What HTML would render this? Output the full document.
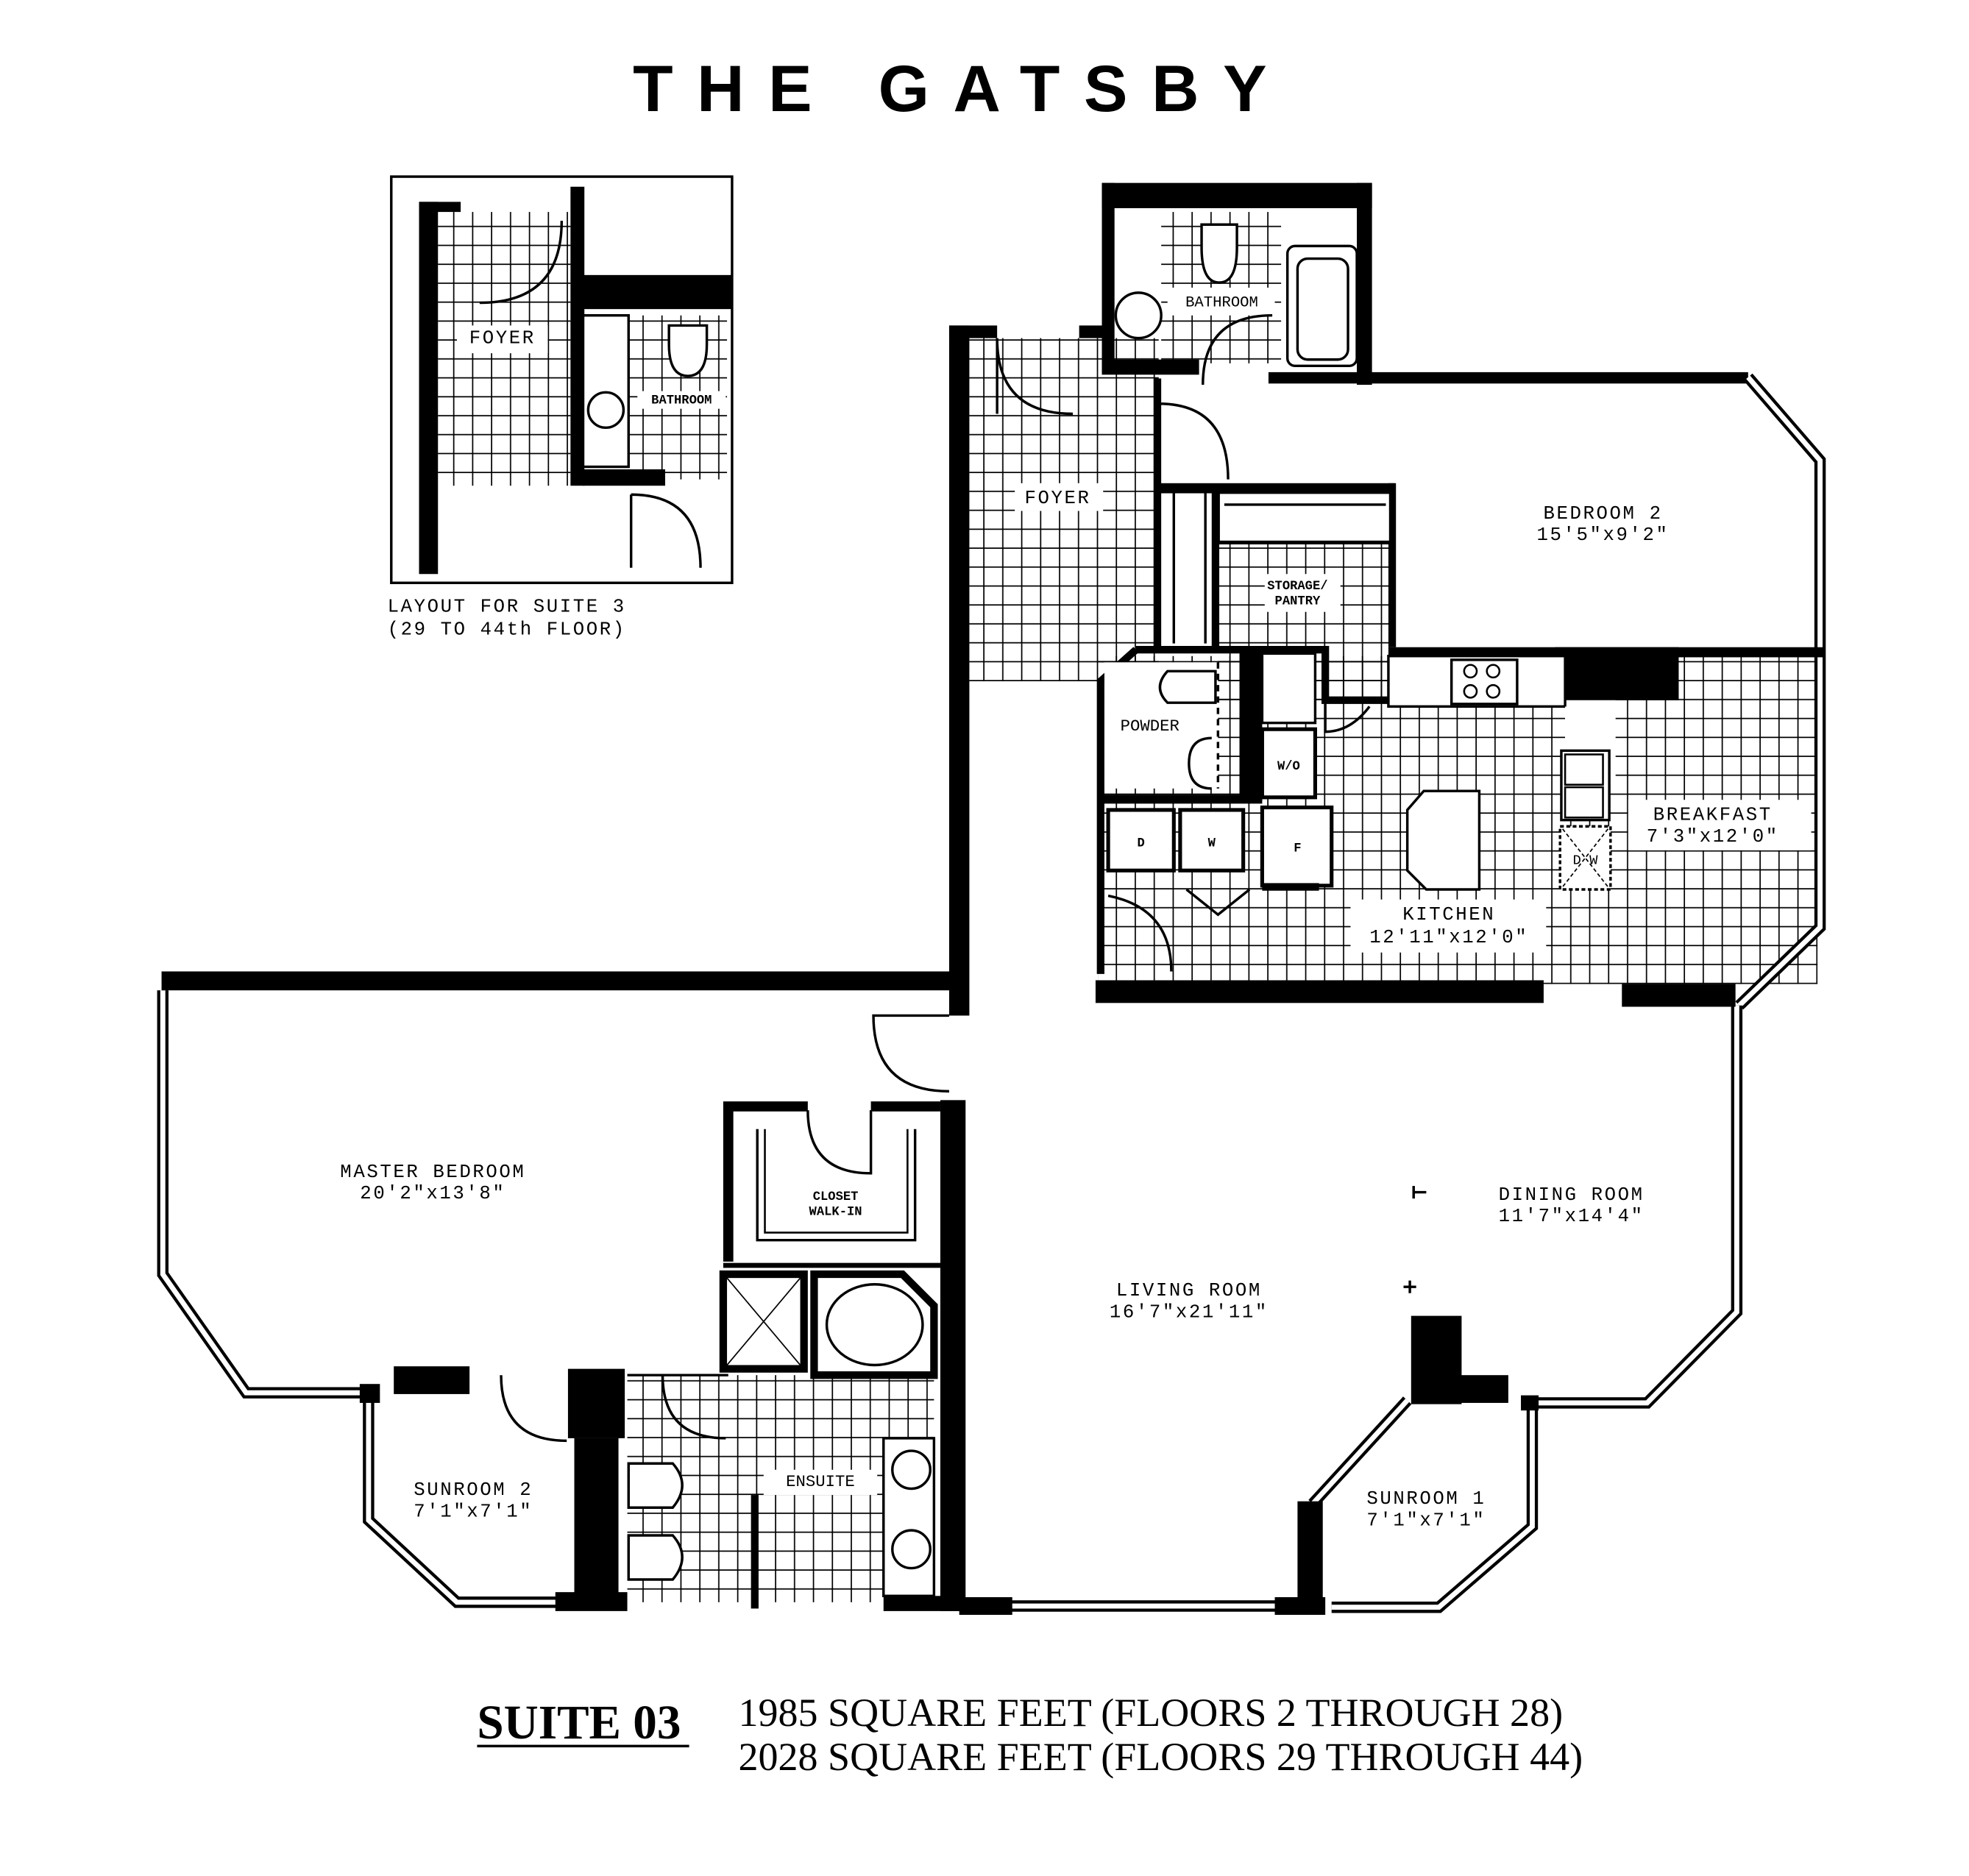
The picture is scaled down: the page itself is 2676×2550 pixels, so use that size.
<!DOCTYPE html>
<html><head><meta charset="utf-8"><style>
html,body{margin:0;padding:0;background:#fff}
svg{display:block}
.l{font-family:"Liberation Mono",monospace;font-size:15px;fill:#000;text-anchor:middle;letter-spacing:1.5px}
.s{font-family:"Liberation Mono",monospace;font-size:10px;font-weight:bold;fill:#000;text-anchor:middle}
.wo{fill:none;stroke:#000;stroke-width:9}
.wi{fill:none;stroke:#fff;stroke-width:4}
.t{fill:none;stroke:#000;stroke-width:2}
</style></head><body>
<svg width="2676" height="2550" viewBox="0 0 1560 1487" preserveAspectRatio="none" xmlns="http://www.w3.org/2000/svg">
<defs>
<pattern id="g" width="15" height="15" patternUnits="userSpaceOnUse"><path d="M15 0V15H0" fill="none" stroke="#000" stroke-width="2"/></pattern>
<path id="w1" d="M1385 299L1442 365V735L1378 797"/>
<path id="w2" d="M1376 797V1040L1305 1112H1214V1210L1140 1274H1055"/>
<path id="w3" d="M1040 1192L1115 1110"/>
<path id="w4" d="M129 785V1010L195 1104H292V1205L362 1270H445"/>
<path id="w5" d="M800 1273H1012"/>
</defs>
<rect width="1560" height="1487" fill="#fff"/>
<text x="762" y="88" text-anchor="middle" font-family="Liberation Sans,sans-serif" font-weight="bold" font-size="52" letter-spacing="19">THE GATSBY</text>

<!-- inset -->
<rect x="310" y="140" width="270" height="322" fill="none" stroke="#000" stroke-width="2"/>
<rect x="347" y="168" width="105" height="217" fill="url(#g)"/>
<rect x="498" y="250" width="78" height="130" fill="url(#g)"/>
<rect x="362" y="258" width="72" height="22" fill="#fff"/>
<rect x="332" y="160" width="15" height="295"/>
<rect x="332" y="160" width="33" height="8"/>
<rect x="452" y="148" width="11" height="237"/>
<rect x="462" y="218" width="118" height="27"/>
<rect x="462" y="372" width="65" height="13"/>
<rect x="462" y="250" width="36" height="120" fill="#fff" stroke="#000" stroke-width="2"/>
<circle cx="480" cy="325" r="14" fill="none" stroke="#000" stroke-width="2"/>
<path d="M530 258h30v15q0 25-15 25t-15-25z" fill="#fff" stroke="#000" stroke-width="2"/>
<path d="M500 392q55 0 55 58M500 392v58" class="t"/>
<path d="M445 175q0 65-65 65" class="t"/>
<text x="398" y="272" class="l">FOYER</text>
<rect x="505" y="310" width="70" height="14" fill="#fff"/>
<text x="540" y="320" class="s">BATHROOM</text>
<text x="307" y="485" class="l" style="text-anchor:start">LAYOUT FOR SUITE 3</text>
<text x="307" y="503" class="l" style="text-anchor:start">(29 TO 44th FLOOR)</text>

<!-- tiles -->
<rect x="768" y="268" width="150" height="272" fill="url(#g)"/>
<rect x="920" y="168" width="95" height="120" fill="url(#g)"/>
<rect x="965" y="430" width="137" height="125" fill="url(#g)"/>
<rect x="870" y="520" width="570" height="260" fill="url(#g)"/>
<rect x="497" y="1090" width="243" height="180" fill="url(#g)"/>
<rect x="1100" y="520" width="140" height="40" fill="#fff"/>
<rect x="1240" y="520" width="40" height="100" fill="#fff"/>
<rect x="1070" y="713" width="155" height="42" fill="#fff"/>
<rect x="1290" y="634" width="145" height="40" fill="#fff"/>
<rect x="804" y="383" width="70" height="22" fill="#fff"/>
<rect x="925" y="228" width="85" height="22" fill="#fff"/>
<rect x="1002" y="455" width="60" height="30" fill="#fff"/>
<rect x="878" y="565" width="66" height="20" fill="#fff"/>
<rect x="605" y="1165" width="90" height="20" fill="#fff"/>
<rect x="930" y="390" width="30" height="120" fill="#fff"/>

<!-- top bathroom block -->
<rect x="873" y="145" width="214" height="20"/>
<rect x="873" y="145" width="10" height="150"/>
<rect x="1075" y="145" width="12" height="160"/>
<rect x="873" y="285" width="77" height="12"/>
<rect x="1005" y="295" width="380" height="9"/>
<rect x="1020" y="195" width="55" height="95" rx="6" fill="#fff" stroke="#000" stroke-width="2"/>
<rect x="1028" y="205" width="40" height="80" rx="8" fill="none" stroke="#000" stroke-width="2"/>
<circle cx="902" cy="250" r="18" fill="#fff" stroke="#000" stroke-width="2"/>
<path d="M952 178h28v18q0 28-14 28t-14-28z" fill="#fff" stroke="#000" stroke-width="2"/>
<path d="M1008 250q-55 0-55 55" class="t"/>
<text x="968" y="243" class="s" style="font-size:12px;font-weight:normal">BATHROOM</text>

<!-- windows -->
<use href="#w1" class="wo"/><use href="#w1" class="wi"/>
<use href="#w2" class="wo"/><use href="#w2" class="wi"/>
<use href="#w3" class="wo"/><use href="#w3" class="wi"/>
<use href="#w4" class="wo"/><use href="#w4" class="wi"/>
<use href="#w5" class="wo"/><use href="#w5" class="wi"/>

<!-- foyer -->
<rect x="752" y="258" width="16" height="547"/>
<rect x="752" y="258" width="38" height="10"/>
<rect x="855" y="258" width="20" height="10"/>
<rect x="914" y="300" width="6" height="215"/>
<path d="M790 268q0 60 60 60M790 268v60" class="t"/>
<path d="M918 320q55 0 55 60" class="t"/>
<text x="838" y="399" class="l">FOYER</text>
<rect x="918" y="383" width="187" height="8"/>
<rect x="1100" y="383" width="6" height="130"/>
<rect x="965" y="390" width="137" height="40" fill="#fff" stroke="#000" stroke-width="3"/>
<line x1="970" y1="400" x2="1098" y2="400" stroke="#000" stroke-width="2"/>
<rect x="960" y="390" width="6" height="125"/>
<path d="M930 390v120M955 390v120" class="t"/>
<text x="1028" y="467" class="s">STORAGE/</text>
<text x="1028" y="479" class="s">PANTRY</text>
<text x="1270" y="411" class="l">BEDROOM 2</text>
<text x="1270" y="428" class="l">15'5"x9'2"</text>
<rect x="1100" y="513" width="345" height="8"/>
<rect x="1232" y="513" width="98" height="42"/>

<!-- powder / laundry -->
<path d="M900 515H1050V555H1100" fill="none" stroke="#000" stroke-width="6"/>
<path d="M900 515L872 540V772" fill="none" stroke="#000" stroke-width="6"/>
<rect x="982" y="515" width="18" height="120"/>
<rect x="872" y="630" width="128" height="7"/>
<rect x="1000" y="518" width="42" height="55" fill="#fff" stroke="#000" stroke-width="2"/>
<rect x="1000" y="578" width="42" height="54" fill="#fff" stroke="#000" stroke-width="3"/>
<rect x="878" y="642" width="52" height="48" fill="#fff" stroke="#000" stroke-width="3"/>
<rect x="935" y="642" width="50" height="48" fill="#fff" stroke="#000" stroke-width="3"/>
<rect x="1000" y="640" width="55" height="62" fill="#fff" stroke="#000" stroke-width="3"/>
<rect x="1000" y="700" width="45" height="6"/>
<rect x="875" y="525" width="90" height="100" fill="#fff"/>
<path d="M925 532h38v25h-38q-12-12 0-25z" fill="#fff" stroke="#000" stroke-width="2"/>
<path d="M965 525v100" stroke="#000" stroke-width="2" stroke-dasharray="5 4"/>
<path d="M960 585q-18 0-18 20t18 20" class="t"/>
<text x="911" y="579" class="s" style="font-size:13px;font-weight:normal">POWDER</text>
<text x="1021" y="610" class="s">W/O</text>
<text x="904" y="671" class="s">D</text>
<text x="960" y="671" class="s">W</text>
<text x="1028" y="675" class="s">F</text>
<path d="M878 710q50 10 50 60M940 705l25 20l25-20" class="t"/>
<!-- kitchen -->
<rect x="1100" y="520" width="140" height="40" fill="#fff" stroke="#000" stroke-width="2"/>
<rect x="1150" y="523" width="52" height="35" fill="#fff" stroke="#000" stroke-width="2"/>
<circle cx="1165" cy="532" r="5" fill="none" stroke="#000" stroke-width="1.5"/><circle cx="1183" cy="532" r="5" fill="none" stroke="#000" stroke-width="1.5"/>
<circle cx="1165" cy="548" r="5" fill="none" stroke="#000" stroke-width="1.5"/><circle cx="1183" cy="548" r="5" fill="none" stroke="#000" stroke-width="1.5"/>
<path d="M1050 520v60q20 0 35-20" class="t"/>
<path d="M1128 627h44v78h-42l-15-15v-48z" fill="#fff" stroke="#000" stroke-width="2"/>
<path d="M1240 560h38v60h-38z" fill="#fff"/>
<rect x="1237" y="595" width="38" height="55" fill="#fff" stroke="#000" stroke-width="2"/>
<rect x="1240" y="598" width="30" height="24" fill="none" stroke="#000" stroke-width="1.5"/>
<rect x="1240" y="624" width="30" height="24" fill="none" stroke="#000" stroke-width="1.5"/>
<rect x="1236" y="655" width="40" height="50" fill="#fff" stroke="#000" stroke-width="2" stroke-dasharray="3 2"/>
<path d="M1238 657l36 46M1274 657l-36 46" stroke="#000" stroke-width="1" stroke-dasharray="3 2"/>
<text x="1256" y="685" class="s" style="font-size:11px;font-weight:normal">D W</text>
<text x="1148" y="729" class="l">KITCHEN</text>
<text x="1148" y="747" class="l">12'11"x12'0"</text>
<text x="1357" y="650" class="l">BREAKFAST</text>
<text x="1357" y="667" class="l">7'3"x12'0"</text>
<rect x="868" y="777" width="355" height="18"/>
<rect x="1285" y="780" width="90" height="18"/>

<!-- master bedroom -->
<rect x="128" y="770" width="626" height="15"/>
<path d="M752 805q-60 0-60 0q0 60 60 60" class="t"/>
<text x="343" y="933" class="l">MASTER BEDROOM</text>
<text x="343" y="950" class="l">20'2"x13'8"</text>
<rect x="285" y="1097" width="16" height="15"/>
<rect x="312" y="1083" width="60" height="22"/>
<path d="M397 1090q0 52 52 52" class="t"/>
<text x="375" y="1185" class="l">SUNROOM 2</text>
<text x="375" y="1202" class="l">7'1"x7'1"</text>
<rect x="440" y="1262" width="57" height="15"/>
<rect x="450" y="1085" width="45" height="55"/>
<rect x="455" y="1140" width="35" height="130"/>
<!-- closet -->
<path d="M577 1000V877H640M690 877H745" fill="none" stroke="#000" stroke-width="8"/>
<path d="M573 1003H745" stroke="#000" stroke-width="4"/>
<path d="M600 895v88h125v-88" fill="none" stroke="#000" stroke-width="2"/>
<path d="M606 895v82h113v-82" fill="none" stroke="#000" stroke-width="1.5"/>
<path d="M640 880q0 50 50 50v-50" class="t"/>
<text x="662" y="951" class="s">CLOSET</text>
<text x="662" y="963" class="s">WALK-IN</text>
<rect x="573" y="1010" width="64" height="75" fill="#fff" stroke="#000" stroke-width="6"/>
<path d="M576 1013l58 69M634 1013l-58 69" stroke="#000" stroke-width="1"/>
<path d="M645 1010h70l25 25v55h-95z" fill="#fff" stroke="#000" stroke-width="6"/>
<ellipse cx="693" cy="1050" rx="38" ry="32" fill="#fff" stroke="#000" stroke-width="2"/>
<path d="M497 1090h80M575 1140q-50 0-50 -50" class="t"/>
<rect x="700" y="1140" width="40" height="125" fill="#fff" stroke="#000" stroke-width="2"/>
<circle cx="722" cy="1165" r="15" fill="none" stroke="#000" stroke-width="2"/>
<circle cx="722" cy="1228" r="15" fill="none" stroke="#000" stroke-width="2"/>
<path d="M498 1160h35q15 17 0 35h-35z" fill="#fff" stroke="#000" stroke-width="2"/>
<path d="M498 1217h35q15 17 0 35h-35z" fill="#fff" stroke="#000" stroke-width="2"/>
<rect x="595" y="1185" width="6" height="90"/>
<text x="650" y="1178" class="s" style="font-size:13px;font-weight:normal">ENSUITE</text>
<rect x="745" y="872" width="20" height="405"/>
<rect x="700" y="1265" width="60" height="12"/>

<!-- living -->
<rect x="760" y="1266" width="42" height="14"/>
<rect x="1010" y="1266" width="40" height="14"/>
<rect x="1028" y="1190" width="20" height="80"/>
<rect x="1118" y="1043" width="40" height="70"/>
<rect x="1150" y="1090" width="45" height="22"/>
<rect x="1205" y="1106" width="14" height="12"/>
<text x="942" y="1027" class="l">LIVING ROOM</text>
<text x="942" y="1044" class="l">16'7"x21'11"</text>
<text x="1245" y="951" class="l">DINING ROOM</text>
<text x="1245" y="968" class="l">11'7"x14'4"</text>
<text x="1130" y="1192" class="l">SUNROOM 1</text>
<text x="1130" y="1209" class="l">7'1"x7'1"</text>
<path d="M1120 940v10M1120 945h10M1112 1020h10M1117 1015v10" class="t"/>

<!-- footer -->
<text x="378" y="1378" font-family="Liberation Serif,serif" font-weight="bold" font-size="38">SUITE 03</text>
<line x1="378" y1="1384" x2="546" y2="1384" stroke="#000" stroke-width="2"/>
<text x="585" y="1368" font-family="Liberation Serif,serif" font-size="31.5">1985 SQUARE FEET (FLOORS 2 THROUGH 28)</text>
<text x="585" y="1403" font-family="Liberation Serif,serif" font-size="31.5">2028 SQUARE FEET (FLOORS 29 THROUGH 44)</text>
</svg>
</body></html>
